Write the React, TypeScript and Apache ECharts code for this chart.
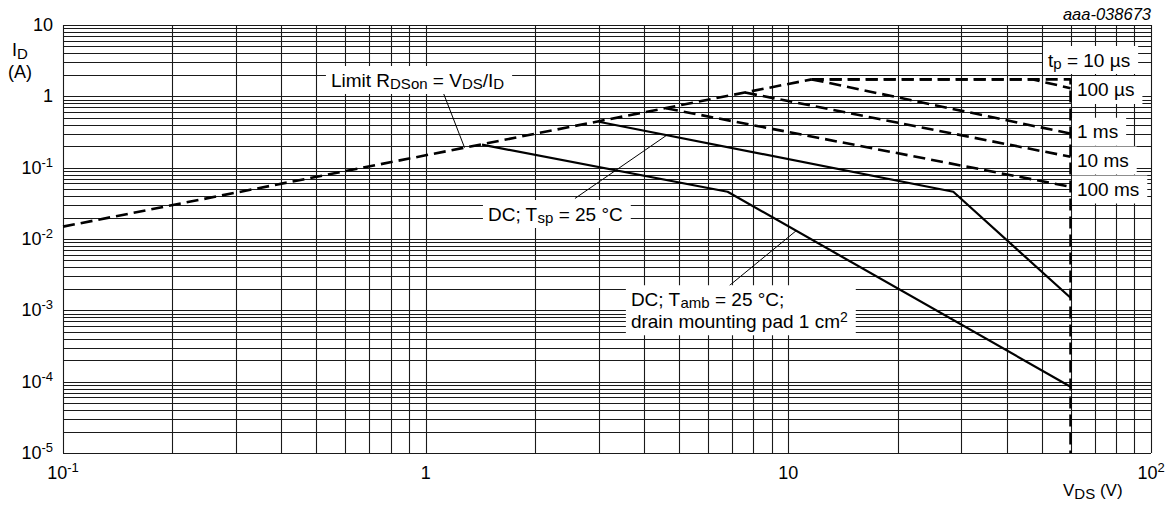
import React, { useEffect, useRef } from "react";
import * as echarts from "echarts";

const FONT = "'Liberation Sans', Arial, Helvetica, sans-serif";

// ---- axis ranges, grid and tick values ----
const xMin = 0.1;
const xMax = 100;
const yMin = 1e-5;
const yMax = 10;
const xDecades = [0.1, 1, 10];
const yDecades = [1e-5, 1e-4, 1e-3, 1e-2, 1e-1, 1];
const gridMantissas = [1, 2, 3, 4, 5, 6, 7, 8, 9];
const xTickExps = [-1, 0, 1, 2];
const xTickTexts = ["{b|10}{s|-1}", "{b|1}", "{b|10}", "{b|10}{s|2}"];
const yTickExps = [-5, -4, -3, -2, -1, 0, 1];
const yTickTexts = ["{b|10}{s|-5}", "{b|10}{s|-4}", "{b|10}{s|-3}", "{b|10}{s|-2}", "{b|10}{s|-1}", "{b|1}", "{b|10}"];

// ---- curves (V_DS in V, I_D in A) ----
const limitV = [0.1, 11.6];
const limitI = [0.0149, 1.73];
const tp10usV = [11.6, 60, 60];
const tp10usI = [1.73, 1.73, 1e-5];
const tp100usV = [11.6, 47, 60];
const tp100usI = [1.73, 1.73, 1.3];
const tp1msV = [11.6, 60];
const tp1msI = [1.73, 0.3];
const tp10msV = [7.6, 60];
const tp10msI = [1.13, 0.142];
const tp100msV = [4.6, 60];
const tp100msI = [0.68, 0.054];
const dcTspV = [3.0, 28.5, 60];
const dcTspI = [0.44, 0.046, 0.0015];
const dcTambV = [1.43, 6.8, 60];
const dcTambI = [0.21, 0.046, 8.5e-5];

// ---- leader lines ----
const leaderLimitV = [1.12, 1.28];
const leaderLimitI = [1.1, 0.191];
const leaderTspV = [2.58, 4.62];
const leaderTspI = [0.037, 0.285];
const leaderTambV = [6.86, 10.5];
const leaderTambI = [0.0022, 0.013];

// ---- annotations (left edge of text, vertical centre) ----
const noteTexts = [
  "Limit R{sub|DSon} = V{sub|DS}/I{sub|D}",
  "DC; T{sub|sp} = 25 °C",
  "DC; T{sub|amb} = 25 °C;\ndrain mounting pad 1 cm{sup|2}",
  "t{sub|p} = 10 µs",
  "100 µs",
  "1 ms",
  "10 ms",
  "100 ms",
];
const noteV = [0.548, 1.485, 3.68, 52, 62.5, 62.5, 62.5, 62.5];
const noteI = [1.69, 0.0224, 1.0e-3, 3.23, 1.23, 0.319, 0.126, 0.0494];

const pairs = (xs: number[], ys: number[]) => xs.map((x, i) => [x, ys[i]]);

export default function App() {
  const ref = useRef<HTMLDivElement>(null);

  useEffect(() => {
    document.body.style.margin = "0";
    if (!ref.current) return;
    const chart = echarts.init(ref.current, undefined, { renderer: "svg" });

    const xGrid = xDecades.flatMap((d) => gridMantissas.map((m) => m * d)).concat([xMax]);
    const yGrid = yDecades.flatMap((d) => gridMantissas.map((m) => m * d)).concat([yMax]);

    const gridLine = (vertical: boolean) => ({
      type: "custom",
      silent: true,
      z: 1,
      clip: false,
      data: vertical ? xGrid.map((v) => [v, yMin]) : yGrid.map((v) => [xMin, v]),
      encode: { x: 0, y: 1 },
      renderItem: (_p: any, api: any) => {
        const v = api.value(vertical ? 0 : 1);
        const a = vertical ? api.coord([v, yMin]) : api.coord([xMin, v]);
        const b = vertical ? api.coord([v, yMax]) : api.coord([xMax, v]);
        const shape = vertical
          ? { x1: Math.round(a[0]) + 0.5, y1: a[1], x2: Math.round(b[0]) + 0.5, y2: b[1] }
          : { x1: a[0], y1: Math.round(a[1]) + 0.5, x2: b[0], y2: Math.round(b[1]) + 0.5 };
        return { type: "line", shape, style: { stroke: "#1a1a1a", lineWidth: 1.1 } };
      },
    });

    const dashed = (name: string, xs: number[], ys: number[]) => ({
      name,
      type: "line",
      data: pairs(xs, ys),
      symbol: "none",
      silent: true,
      z: 4,
      lineStyle: { color: "#000", width: 2.6, type: [12, 6] },
    });
    const solid = (name: string, xs: number[], ys: number[], w: number) => ({
      name,
      type: "line",
      data: pairs(xs, ys),
      symbol: "none",
      silent: true,
      z: 4,
      lineStyle: { color: "#000", width: w, type: "solid" },
    });

    const tickRich = {
      b: { fontSize: 18, lineHeight: 24, fontFamily: FONT, color: "#000" },
      s: { fontSize: 13, fontFamily: FONT, color: "#000", verticalAlign: "top" },
    };
    const fmt = (exps: number[], texts: string[]) => (v: number) => {
      const e = Math.round(Math.log10(v));
      const k = exps.indexOf(e);
      return k >= 0 ? texts[k] : "";
    };

    chart.setOption({
      animation: false,
      grid: { left: 63, right: 23, top: 25, bottom: 53, containLabel: false },
      xAxis: {
        type: "log",
        logBase: 10,
        min: xMin,
        max: xMax,
        splitNumber: 3,
        axisLine: { show: false },
        axisTick: { show: false },
        splitLine: { show: false },
        axisLabel: { margin: 8, formatter: fmt(xTickExps, xTickTexts), rich: tickRich },
      },
      yAxis: {
        type: "log",
        logBase: 10,
        min: yMin,
        max: yMax,
        splitNumber: 6,
        axisLine: { show: false },
        axisTick: { show: false },
        splitLine: { show: false },
        axisLabel: { margin: 10, formatter: fmt(yTickExps, yTickTexts), rich: tickRich },
      },
      series: [
        gridLine(true),
        gridLine(false),
        dashed("Limit RDSon", limitV, limitI),
        dashed("tp = 10 µs", tp10usV, tp10usI),
        dashed("100 µs", tp100usV, tp100usI),
        dashed("1 ms", tp1msV, tp1msI),
        dashed("10 ms", tp10msV, tp10msI),
        dashed("100 ms", tp100msV, tp100msI),
        solid("DC Tsp", dcTspV, dcTspI, 2.2),
        solid("DC Tamb", dcTambV, dcTambI, 2.2),
        solid("leader limit", leaderLimitV, leaderLimitI, 1),
        solid("leader Tsp", leaderTspV, leaderTspI, 1),
        solid("leader Tamb", leaderTambV, leaderTambI, 1),
      ],
    });

    const noteRich = {
      sub: { fontSize: 15, fontFamily: FONT, fill: "#000", verticalAlign: "bottom" },
      sup: { fontSize: 14, fontFamily: FONT, fill: "#000", verticalAlign: "top" },
    };
    const padL = 5;
    const notes = noteTexts.map((t, k) => {
      const p = chart.convertToPixel({ gridIndex: 0 }, [noteV[k], noteI[k]]) as number[];
      return {
        type: "text",
        x: p[0] - padL,
        y: p[1],
        z: 20,
        silent: true,
        style: {
          text: t,
          fontFamily: FONT,
          fontSize: 19,
          fill: "#000",
          lineHeight: 22,
          align: "left",
          verticalAlign: "middle",
          backgroundColor: "#fff",
          padding: [3, 8, 3, padL],
          rich: noteRich,
        },
      };
    });

    chart.setOption({
      graphic: [
        ...notes,
        {
          type: "text",
          x: 20,
          y: 61,
          silent: true,
          style: {
            text: "I{sub|D}\n(A)",
            fontFamily: FONT,
            fontSize: 18,
            lineHeight: 22,
            fill: "#000",
            align: "center",
            verticalAlign: "middle",
            rich: noteRich,
          },
        },
        {
          type: "text",
          x: 1063,
          y: 490,
          silent: true,
          style: {
            text: "V{sub|DS} (V)",
            fontFamily: FONT,
            fontSize: 17,
            lineHeight: 22,
            fill: "#000",
            align: "left",
            verticalAlign: "middle",
            rich: noteRich,
          },
        },
        {
          type: "text",
          x: 1151,
          y: 14,
          silent: true,
          style: {
            text: "aaa-038673",
            fontFamily: FONT,
            fontSize: 16.5,
            fontStyle: "italic",
            fill: "#000",
            align: "right",
            verticalAlign: "middle",
          },
        },
      ],
    });

    return () => chart.dispose();
  }, []);

  return <div ref={ref} style={{ width: 1174, height: 506 }} />;
}
